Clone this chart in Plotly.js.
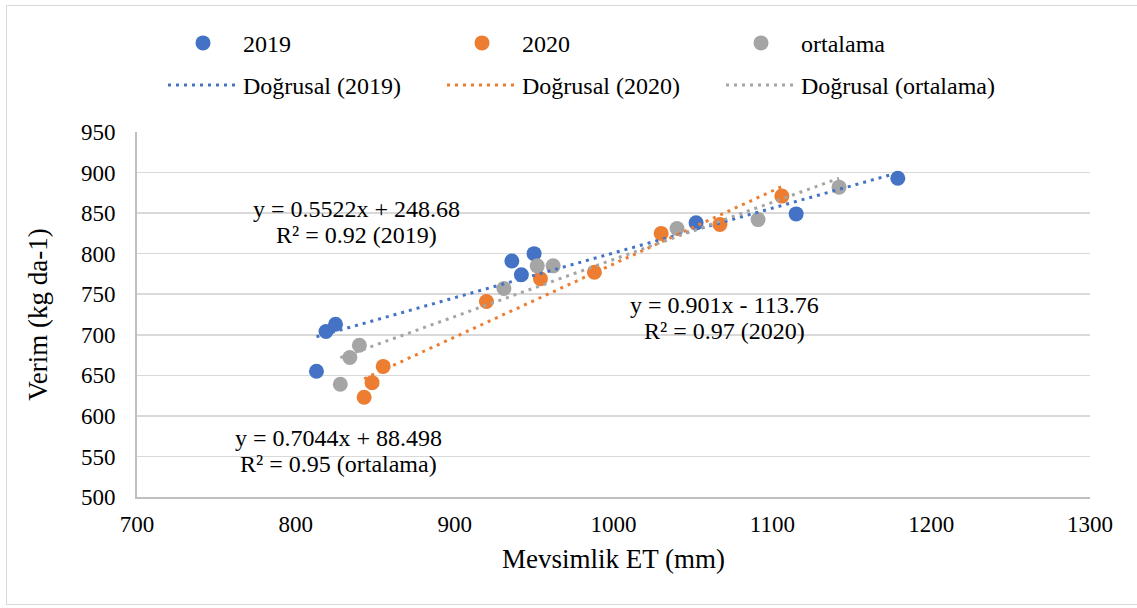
<!DOCTYPE html>
<html>
<head>
<meta charset="utf-8">
<script src="https://cdn.plot.ly/plotly-3.0.1.min.js"></script>
<style>
  html, body { margin: 0; padding: 0; background: #fff; }
  #chart { position: absolute; left: 0; top: 0; width: 1137px; height: 608px; }
  #frame { position: absolute; left: 6px; top: 5px; width: 1140px; height: 600px;
           border: 1.5px solid #d9d9d9; pointer-events: none; box-sizing: border-box; }
</style>
</head>
<body>
<div id="chart"></div>
<div id="frame"></div>
<script>
// ---- data ----
const seriesNames = ['2019', '2020', 'ortalama'];
const trendNames = ['Doğrusal (2019)', 'Doğrusal (2020)', 'Doğrusal (ortalama)'];
const x2019 = [813, 819, 825, 936, 942, 950, 1052, 1115, 1179];
const y2019 = [655, 704, 713, 791, 774, 800, 838, 849, 893];
const x2020 = [843, 848, 855, 920, 954, 988, 1030, 1067, 1106];
const y2020 = [623, 641, 661, 741, 769, 777, 825, 836, 871];
const xAvg = [828, 834, 840, 931, 952, 962, 1040, 1091, 1142];
const yAvg = [639, 672, 687, 757, 785, 785, 831, 842, 882];
// trendline equations shown on the chart
const slopes = [0.5522, 0.901, 0.7044];
const intercepts = [248.68, -113.76, 88.498];
const eqLine1 = ['y = 0.5522x + 248.68', 'y = 0.901x - 113.76', 'y = 0.7044x + 88.498'];
const eqLine2 = ['R² = 0.92 (2019)', 'R² = 0.97 (2020)', 'R² = 0.95 (ortalama)'];
const eqX = [838, 1070, 827];
const eqY = [839, 721, 557];
const xTickVals = [700, 800, 900, 1000, 1100, 1200, 1300];
const yTickVals = [500, 550, 600, 650, 700, 750, 800, 850, 900, 950];

const colors = ['#4472C4', '#ED7D31', '#A5A5A5'];
const FONT = 'Liberation Serif, Times New Roman, serif';

const xs = [x2019, x2020, xAvg];
const ys = [y2019, y2020, yAvg];

const traces = [];
for (let i = 0; i < 3; i++) {
  traces.push({
    type: 'scatter', mode: 'markers', name: seriesNames[i],
    x: xs[i], y: ys[i], legend: 'legend',
    marker: { color: colors[i], size: 15, line: { width: 0 } },
    hoverinfo: 'x+y'
  });
}
for (let i = 0; i < 3; i++) {
  const x0 = Math.min(...xs[i]), x1 = Math.max(...xs[i]);
  traces.push({
    type: 'scatter', mode: 'lines', name: trendNames[i],
    x: [x0, x1], y: [slopes[i] * x0 + intercepts[i], slopes[i] * x1 + intercepts[i]],
    legend: 'legend2',
    line: { color: colors[i], width: 3, dash: '3px,5px' },
    hoverinfo: 'skip'
  });
}

const annotations = [];
for (let i = 0; i < 3; i++) {
  [eqLine1[i], eqLine2[i]].forEach((t, k) => {
    annotations.push({
      x: eqX[i], y: eqY[i], xref: 'x', yref: 'y', text: t, showarrow: false,
      xanchor: 'center', yanchor: 'middle', yshift: k === 0 ? 13 : -13,
      font: { family: FONT, size: 24, color: '#000' }
    });
  });
}

const legendCommon = {
  orientation: 'h', xanchor: 'left', yanchor: 'middle',
  font: { family: FONT, size: 24, color: '#000' },
  itemwidth: 70, entrywidth: 194, entrywidthmode: 'pixels',
  bgcolor: 'rgba(0,0,0,0)', borderwidth: 0, traceorder: 'normal'
};

const layout = {
  width: 1137, height: 608,
  margin: { l: 137, r: 47, t: 132, b: 111, pad: 0 },
  paper_bgcolor: '#fff', plot_bgcolor: '#fff',
  font: { family: FONT, size: 23, color: '#000' },
  showlegend: true,
  legend: Object.assign({}, legendCommon, { x: 0.0273, y: 1.243 }),
  legend2: Object.assign({}, legendCommon, { x: 0.0273, y: 1.128 }),
  xaxis: {
    range: [700, 1300], tickvals: xTickVals, ticks: '', showgrid: false,
    zeroline: false, showline: true, linecolor: '#bfbfbf', linewidth: 2,
    tickfont: { family: FONT, size: 23, color: '#000' }, ticklabelstandoff: 5,
    title: { text: 'Mevsimlik ET (mm)', font: { family: FONT, size: 27, color: '#000' }, standoff: 14 }
  },
  yaxis: {
    range: [500, 950], tickvals: yTickVals, ticks: '', showgrid: true,
    gridcolor: '#d9d9d9', gridwidth: 1.5,
    zeroline: false, showline: true, linecolor: '#bfbfbf', linewidth: 2,
    tickfont: { family: FONT, size: 23, color: '#000' }, ticklabelstandoff: 15,
    title: { text: 'Verim (kg da-1)', font: { family: FONT, size: 27, color: '#000' }, standoff: 25 }
  },
  annotations: annotations
};

Plotly.newPlot('chart', traces, layout, { displayModeBar: false, staticPlot: true });
</script>
</body>
</html>
